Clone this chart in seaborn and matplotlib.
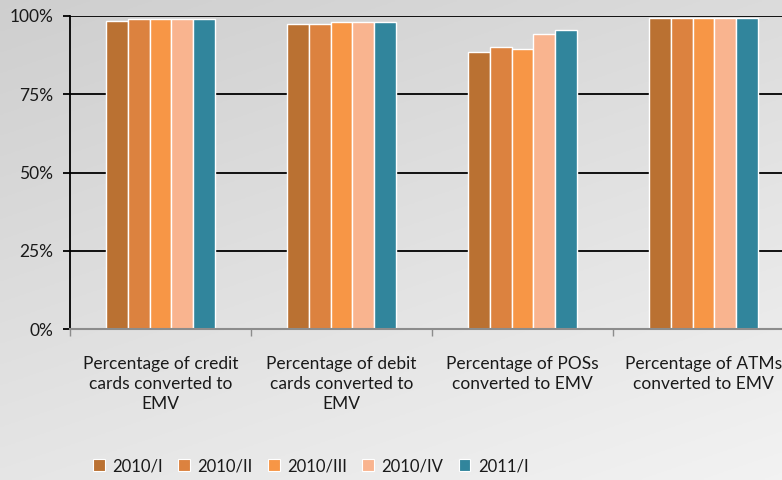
import numpy as np
import pandas as pd
import matplotlib
matplotlib.use("Agg")
import matplotlib.pyplot as plt
import seaborn as sns
from matplotlib.ticker import PercentFormatter

# Data
categories = [
    "Percentage of credit\ncards converted to\nEMV",
    "Percentage of debit\ncards converted to\nEMV",
    "Percentage of POSs\nconverted to EMV",
    "Percentage of ATMs\nconverted to EMV",
]
periods = ["2010/I", "2010/II", "2010/III", "2010/IV", "2011/I"]
q2010_1 = [98.4, 97.3, 88.4, 99.3]
q2010_2 = [99.0, 97.6, 90.2, 99.3]
q2010_3 = [99.0, 98.1, 89.4, 99.3]
q2010_4 = [99.0, 98.1, 94.3, 99.3]
q2011_1 = [99.0, 98.1, 95.6, 99.3]
colors = ["#BA7132", "#DC823F", "#F79646", "#F9B48F", "#31859C"]

series = [q2010_1, q2010_2, q2010_3, q2010_4, q2011_1]
df = pd.DataFrame([
    {"category": c, "period": p, "value": v}
    for p, vals in zip(periods, series)
    for c, v in zip(categories, vals)
])

sns.set_style("white")
plt.rcParams["font.family"] = ["Lato", "DejaVu Sans"]

W, H = 782, 480
fig = plt.figure(figsize=(W / 100, H / 100), dpi=100)

# gradient background
bg = fig.add_axes([0, 0, 1, 1], zorder=-1)
xx, yy = np.meshgrid(np.linspace(0, 1, 200), np.linspace(0, 1, 200))
grad = 0.81 + 0.05 * xx + 0.09 * yy
bg.imshow(np.dstack([grad] * 3), aspect="auto", extent=[0, 1, 0, 1], origin="upper")
bg.axis("off")

ax = fig.add_axes([70 / W, 1 - 329.3 / H, 724 / W, (329.3 - 16) / H])
ax.set_facecolor("none")

sns.barplot(data=df, x="category", y="value", hue="period", palette=colors,
            saturation=1, width=0.6, edgecolor="white", linewidth=1.0, ax=ax,
            legend=True)

ax.set_ylim(0, 100)
ax.set_xlim(-0.5, len(categories) - 0.5)
ax.set_yticks([0, 25, 50, 75, 100])
ax.yaxis.set_major_formatter(PercentFormatter(decimals=0))
ax.grid(axis="y", color="black", linewidth=1.3)
ax.set_axisbelow(True)
ax.set_xlabel("")
ax.set_ylabel("")

for s in ["top", "right"]:
    ax.spines[s].set_visible(False)
ax.spines["left"].set_color("black")
ax.spines["left"].set_linewidth(1.3)
ax.spines["bottom"].set_color("#8c8c8c")
ax.spines["bottom"].set_linewidth(1.5)

ax.tick_params(axis="y", length=5, width=1.3, color="black", labelsize=12.5,
               labelcolor="#1a1a1a", pad=7, left=True)
# x ticks at category boundaries, labels at centres
ax.set_xticks(np.arange(len(categories) + 1) - 0.5, minor=False)
ax.set_xticklabels([])
ax.set_xticks(np.arange(len(categories)), minor=True)
ax.set_xticklabels(categories, minor=True, fontsize=12.5, color="#1a1a1a",
                   linespacing=1.32, va="top")
ax.tick_params(axis="x", which="major", length=5, width=1, color="#8c8c8c",
               bottom=True)
ax.tick_params(axis="x", which="minor", length=0, pad=19)

ax.get_legend().remove()
handles = [plt.Rectangle((0, 0), 1, 1, facecolor=c, edgecolor="white", linewidth=0.8)
           for c in colors]
fig.legend(handles, periods, loc="center left", bbox_to_anchor=(78 / W, 1 - 466 / H),
           ncol=5, frameon=False, fontsize=12, handlelength=0.7, handleheight=0.7,
           handletextpad=0.45, columnspacing=0.92, labelcolor="#1a1a1a")

fig.savefig("out.png", dpi=100)
